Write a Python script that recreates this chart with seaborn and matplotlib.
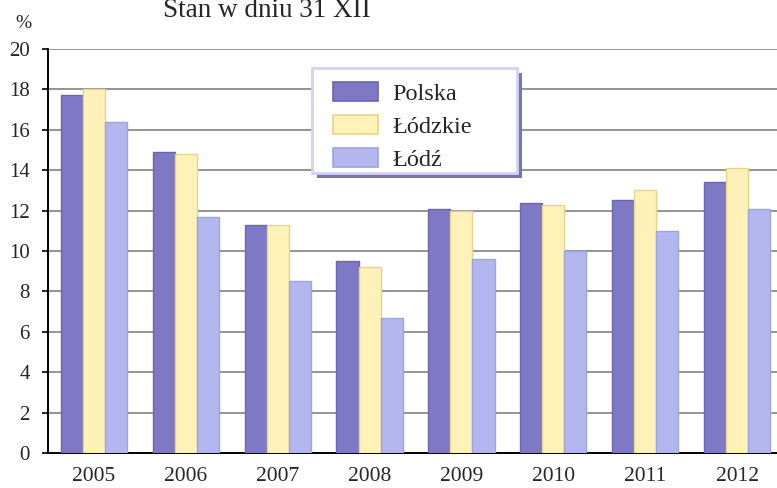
import matplotlib
matplotlib.use("Agg")
import matplotlib.pyplot as plt
import matplotlib.patches as mpatches
import seaborn as sns
import pandas as pd

years = ["2005", "2006", "2007", "2008", "2009", "2010", "2011", "2012"]
series_names = ["Polska", "Łódzkie", "Łódź"]
polska = [17.7, 14.9, 11.3, 9.5, 12.1, 12.4, 12.5, 13.4]
lodzkie = [18.0, 14.8, 11.3, 9.2, 12.0, 12.3, 13.0, 14.1]
lodz = [16.4, 11.7, 8.5, 6.7, 9.6, 10.0, 11.0, 12.1]
yticks = [0, 2, 4, 6, 8, 10, 12, 14, 16, 18, 20]
title = "Stan w dniu 31 XII"
unit = "%"

colors = ["#7f79c5", "#fff2b8", "#b4b7ef"]
edges = ["#6b65b2", "#e9d38a", "#9ea4dc"]

rows = []
for name, vals in zip(series_names, [polska, lodzkie, lodz]):
    for y, v in zip(years, vals):
        rows.append({"year": y, "series": name, "value": v})
df = pd.DataFrame(rows)

sns.set_style("white")
plt.rcParams["font.family"] = ["Liberation Serif", "DejaVu Serif"]

W, H = 777, 488
fig = plt.figure(figsize=(W / 100, H / 100), dpi=100)
ax = fig.add_axes([48 / W, 35 / H, (783 - 48) / W, (453 - 49) / H])

sns.barplot(data=df, x="year", y="value", hue="series", order=years,
            hue_order=series_names, palette=colors, saturation=1,
            width=0.72, gap=0, ax=ax, legend=False, zorder=3)

for cont, ec in zip(ax.containers, edges):
    for p in cont:
        p.set_edgecolor(ec)
        p.set_linewidth(1.0)

ax.set_xlim(-0.5, 7.5)
ax.set_ylim(0, 20)
ax.set_yticks(yticks)
ax.set_xlabel("")
ax.set_ylabel("")
ax.yaxis.grid(True, color="#828282", linewidth=1.2, zorder=0)
ax.set_axisbelow(True)
for s in ["top", "right"]:
    ax.spines[s].set_visible(False)
for s in ["left", "bottom"]:
    ax.spines[s].set_color("black")
    ax.spines[s].set_linewidth(1.4)
ax.tick_params(axis="y", left=True, length=4, width=1.2, color="black",
               pad=9, labelsize=15)
ax.tick_params(axis="x", bottom=False, length=0, pad=10, labelsize=15.5)

# title is partly clipped at the top edge, as in the reference
fig.text(267 / W, 1 - 17 / H, title, ha="center", va="baseline", fontsize=19.5)
fig.text(23 / W, 1 - 23 / H, unit, ha="center", va="center", fontsize=14)

# legend box with shadow
lx0, lx1, ly0, ly1 = 312, 517, 68, 173
fig.patches.append(mpatches.Rectangle((lx0 / W + 5 / W, 1 - (ly1 + 5) / H),
                                      (lx1 - lx0) / W, (ly1 - ly0) / H,
                                      transform=fig.transFigure,
                                      facecolor="#7878a8", edgecolor="none", zorder=5))
fig.patches.append(mpatches.Rectangle((lx0 / W, 1 - ly1 / H),
                                      (lx1 - lx0) / W, (ly1 - ly0) / H,
                                      transform=fig.transFigure,
                                      facecolor="white", edgecolor="#d2d2fa",
                                      linewidth=2, zorder=6))
handles = [mpatches.Patch(facecolor=c, edgecolor=e, linewidth=1.2)
           for c, e in zip(colors, edges)]
leg = fig.legend(handles, series_names, loc="upper left",
                 bbox_to_anchor=(316 / W, 1 - 65 / H), frameon=False,
                 fontsize=17.5, handlelength=1.85, handleheight=0.82,
                 handletextpad=0.6, labelspacing=0.42, borderpad=0.2)
leg.set_zorder(7)

fig.savefig("out.png", dpi=100)
